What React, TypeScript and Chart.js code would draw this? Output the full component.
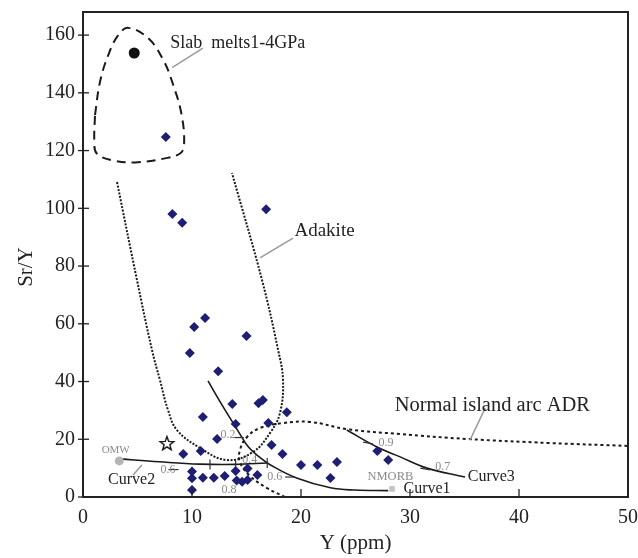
import React, { useEffect, useRef } from 'react';
import { Chart, registerables } from 'chart.js';
Chart.register(...registerables);

// ---- axis ticks ----
const xTickValues = [0, 10, 20, 30, 40, 50];
const yTickValues = [0, 20, 40, 60, 80, 100, 120, 140, 160];

// ---- sample data (Y ppm, Sr/Y) ----
const sampleY = [7.6, 8.2, 9.1, 16.8, 10.2, 11.2, 15.0, 9.8, 12.4, 13.7, 16.1, 16.5, 11.0, 18.7, 14.0, 17.0, 12.3, 10.8, 9.2, 17.3, 18.3, 20.0, 21.5, 23.3, 22.7, 27.0, 28.0, 10.0, 10.0, 11.0, 12.0, 13.0, 14.0, 15.1, 16.0, 14.1, 14.6, 15.1, 10.0];
const sampleSrY = [124.7, 98, 95, 99.7, 58.9, 62, 55.8, 49.9, 43.6, 32.2, 32.5, 33.6, 27.7, 29.4, 25.3, 25.6, 20.1, 15.9, 14.9, 18.0, 14.9, 11.1, 11.1, 12.1, 6.6, 15.9, 12.8, 8.8, 6.5, 6.7, 6.7, 7.3, 9.0, 9.9, 7.6, 5.7, 5.3, 5.9, 2.4];

const slabMeltY = [4.7];
const slabMeltSrY = [153.8];
const starY = [7.7];
const starSrY = [18.7];
const omwY = [3.33];
const omwSrY = [12.5];
const nmorbY = [28.35];
const nmorbSrY = [2.8];

// ---- field boundaries ----
const slabX = [1.10, 1.56, 2.32, 3.24, 4.16, 5.99, 7.36, 8.28, 9.05, 9.27, 8.9, 7.52, 4.77, 2.63, 1.26, 1.04, 1.10];
const slabYv = [132.3, 143.8, 153.1, 160.0, 162.5, 158.9, 151.4, 142.7, 132.3, 121.9, 119.0, 117.3, 115.9, 116.7, 119.0, 123.0, 132.3];

const adakiteX = [3.12, 4.95, 6.33, 7.06, 7.8, 8.62, 10.73, 13.21, 15.6, 17.16, 18.07, 18.35, 17.9, 16.42, 13.67];
const adakiteYv = [109.1, 75.2, 50.9, 40.5, 30.1, 23.2, 17.0, 12.8, 15.6, 22.2, 29.1, 40.5, 50.9, 75.2, 112.2];

const adrX = [18.53, 16.88, 15.32, 14.4, 14.4, 15.05, 16.24, 18.35, 20.83, 24.2, 29.1, 35.2, 42.8, 50];
const adrYv = [0, 3.1, 7.3, 12.1, 16.3, 20.8, 23.9, 25.6, 26.0, 23.5, 21.8, 20.1, 18.7, 17.7];

// ---- mixing curves ----
const curve1X = [11.47, 12.5, 13.5, 14.4, 15.2, 16.2, 17.2, 19.6, 22.7, 25, 28];
const curve1Yv = [40.2, 33.5, 27.3, 21.8, 17.2, 13.8, 11.1, 6.6, 3.2, 2.4, 2.2];
const curve2X = [3.4, 7, 10.7, 14, 16.9];
const curve2Yv = [13.2, 12.2, 11.4, 11.3, 11.8];
const curve3X = [24.2, 26.97, 29.1, 31.56, 35.05];
const curve3Yv = [23.2, 17.3, 13.9, 10.0, 6.9];

// small tick marks on curves
const curveTickX = [26.15, 31.4, 19.0, 11.65, 14.0, 16.9, 8.3, 14.3];
const curveTickY = [18.7, 9.7, 6.9, 11.3, 11.3, 11.8, 9.5, 20.6];
const curveTickRot = [10, 10, 0, 90, 90, 90, 0, 0];

// ---- labels (data coordinates) ----
const labelText = ['Slab  melts1-4GPa', 'Adakite', 'Normal island arc ADR', 'Curve1', 'Curve2', 'Curve3'];
const labelX = [8.0, 19.4, 28.6, 29.4, 2.3, 35.3];
const labelY = [157.2, 92.2, 31.5, 3.0, 5.9, 6.9];
const labelSize = [18, 19, 20.5, 16, 16, 16];

const smallText = ['OMW', 'NMORB', '0.2', '0.4', '0.6', '0.6', '0.8', '0.9', '0.7'];
const smallX = [3.0, 28.2, 13.3, 15.3, 17.6, 7.8, 13.4, 27.8, 33.0];
const smallY = [16.3, 6.9, 21.5, 12.8, 6.9, 9.4, 2.4, 18.7, 10.4];
const smallSize = [11, 12.5, 12, 12, 12, 12, 12, 12, 12];

// leader lines [x1, y1, x2, y2]
const leaderX1 = [8.17, 16.24, 35.5, 5.4];
const leaderY1 = [148.7, 82.8, 19.7, 11.1];
const leaderX2 = [11.0, 19.27, 36.9, 4.6];
const leaderY2 = [155.5, 89.7, 30.8, 7.6];

const SERIF = '"Liberation Serif", "Times New Roman", serif';

function pts(xs: number[], ys: number[]) {
  return xs.map((x, i) => ({ x, y: ys[i] }));
}

function makeStar() {
  const c = document.createElement('canvas');
  c.width = 18; c.height = 18;
  const g = c.getContext('2d')!;
  g.beginPath();
  for (let i = 0; i < 10; i++) {
    const r = i % 2 ? 3.0 : 7.2;
    const a = -Math.PI / 2 + (i * Math.PI) / 5;
    g.lineTo(9 + r * Math.cos(a), 9.8 + r * Math.sin(a));
  }
  g.closePath();
  g.fillStyle = '#fff';
  g.fill();
  g.lineWidth = 1.4;
  g.strokeStyle = '#111';
  g.stroke();
  return c;
}

const overlay = {
  id: 'overlay',
  afterDatasetsDraw(chart: any) {
    const { ctx, chartArea: a, scales } = chart;
    const xs = scales.x, ys = scales.y;
    ctx.save();
    // leaders
    ctx.strokeStyle = '#9a9a9a';
    ctx.lineWidth = 1.5;
    leaderX1.forEach((_, i) => {
      ctx.beginPath();
      ctx.moveTo(xs.getPixelForValue(leaderX1[i]), ys.getPixelForValue(leaderY1[i]));
      ctx.lineTo(xs.getPixelForValue(leaderX2[i]), ys.getPixelForValue(leaderY2[i]));
      ctx.stroke();
    });
    // labels
    ctx.fillStyle = '#222';
    ctx.textBaseline = 'middle';
    ctx.textAlign = 'left';
    labelText.forEach((t, i) => {
      ctx.font = `${labelSize[i]}px ${SERIF}`;
      ctx.fillText(t, xs.getPixelForValue(labelX[i]), ys.getPixelForValue(labelY[i]));
    });
    ctx.fillStyle = '#8a8a8a';
    ctx.textAlign = 'center';
    smallText.forEach((t, i) => {
      ctx.font = `${smallSize[i]}px ${SERIF}`;
      ctx.fillText(t, xs.getPixelForValue(smallX[i]), ys.getPixelForValue(smallY[i]));
    });
    // border
    ctx.strokeStyle = '#222';
    ctx.lineWidth = 2;
    ctx.strokeRect(a.left, a.top, a.right - a.left, a.bottom - a.top);
    // ticks
    ctx.lineWidth = 1.3;
    xTickValues.forEach((v) => {
      const p = xs.getPixelForValue(v);
      ctx.beginPath(); ctx.moveTo(p, a.bottom); ctx.lineTo(p, a.bottom - 8); ctx.stroke();
    });
    yTickValues.forEach((v) => {
      const p = ys.getPixelForValue(v);
      ctx.beginPath(); ctx.moveTo(a.left - 5, p); ctx.lineTo(a.left + 6, p); ctx.stroke();
    });
    // axis titles
    ctx.fillStyle = '#222';
    ctx.font = `21px ${SERIF}`;
    ctx.textAlign = 'center';
    ctx.textBaseline = 'middle';
    ctx.fillText('Y (ppm)', (a.left + a.right) / 2, a.bottom + 46);
    ctx.save();
    ctx.translate(26, 267);
    ctx.rotate(-Math.PI / 2);
    ctx.fillText('Sr/Y', 0, 0);
    ctx.restore();
    ctx.restore();
  },
};

export default function App() {
  const ref = useRef<HTMLCanvasElement>(null);
  useEffect(() => {
    document.body.style.margin = '0';
    const star = makeStar();
    const lineDs = (data: any[], dash: number[], width: number, tension: number) => ({
      data,
      showLine: true,
      borderColor: '#1a1a1a',
      borderWidth: width,
      borderDash: dash,
      pointRadius: 0,
      tension,
      fill: false,
      order: 5,
    });
    const chart = new Chart(ref.current!, {
      type: 'scatter',
      data: {
        datasets: [
          {
            data: pts(sampleY, sampleSrY),
            pointStyle: 'rectRot',
            pointRadius: 5,
            backgroundColor: '#1e1e72',
            borderColor: '#1e1e72',
            borderWidth: 0,
            order: 0,
          } as any,
          { data: pts(slabMeltY, slabMeltSrY), pointStyle: 'circle', pointRadius: 5.5, backgroundColor: '#111', borderWidth: 0, order: 0 } as any,
          { data: pts(starY, starSrY), pointStyle: star, order: 0 } as any,
          { data: pts(omwY, omwSrY), pointStyle: 'circle', pointRadius: 4.5, backgroundColor: '#b5b5b5', borderWidth: 0, order: 0 } as any,
          { data: pts(nmorbY, nmorbSrY), pointStyle: 'rect', pointRadius: 4, backgroundColor: '#c4c4c4', borderWidth: 0, order: 0 } as any,
          {
            data: pts(curveTickX, curveTickY),
            pointStyle: 'line',
            pointRadius: 5,
            rotation: curveTickRot,
            borderColor: '#333',
            borderWidth: 1.2,
            order: 1,
          } as any,
          lineDs(pts(slabX, slabYv), [9, 6], 2, 0.4),
          lineDs(pts(adakiteX, adakiteYv), [2, 1.5], 2, 0.4),
          lineDs(pts(adrX, adrYv), [3, 3], 2, 0.4),
          lineDs(pts(curve1X, curve1Yv), [], 1.6, 0.4),
          lineDs(pts(curve2X, curve2Yv), [], 1.6, 0.4),
          lineDs(pts(curve3X, curve3Yv), [], 1.6, 0.4),
        ],
      },
      options: {
        animation: false,
        responsive: false,
        maintainAspectRatio: false,
        layout: { padding: { top: 12, right: 10, left: 0, bottom: 0 } },
        plugins: { legend: { display: false }, tooltip: { enabled: false } },
        scales: {
          x: {
            type: 'linear',
            min: 0,
            max: 50,
            afterFit: (s: any) => { s.height = 61; s.paddingLeft = 0; s.paddingRight = 0; },
            afterBuildTicks: (s: any) => { s.ticks = xTickValues.map((v) => ({ value: v })); },
            grid: { display: false, drawTicks: false },
            border: { display: false },
            ticks: { padding: 9, color: '#222', font: { family: SERIF, size: 20 } },
          },
          y: {
            type: 'linear',
            min: 0,
            max: 168,
            afterFit: (s: any) => { s.width = 83; s.paddingTop = 0; s.paddingBottom = 0; },
            afterBuildTicks: (s: any) => { s.ticks = yTickValues.map((v) => ({ value: v })); },
            grid: { display: false, drawTicks: false },
            border: { display: false },
            ticks: { padding: 8, color: '#222', font: { family: SERIF, size: 20 } },
          },
        },
      } as any,
      plugins: [overlay],
    });
    return () => chart.destroy();
  }, []);
  return (
    <div style={{ position: 'absolute', left: 0, top: 0, width: 638, height: 558 }}>
      <canvas ref={ref} width={638} height={558} />
    </div>
  );
}
